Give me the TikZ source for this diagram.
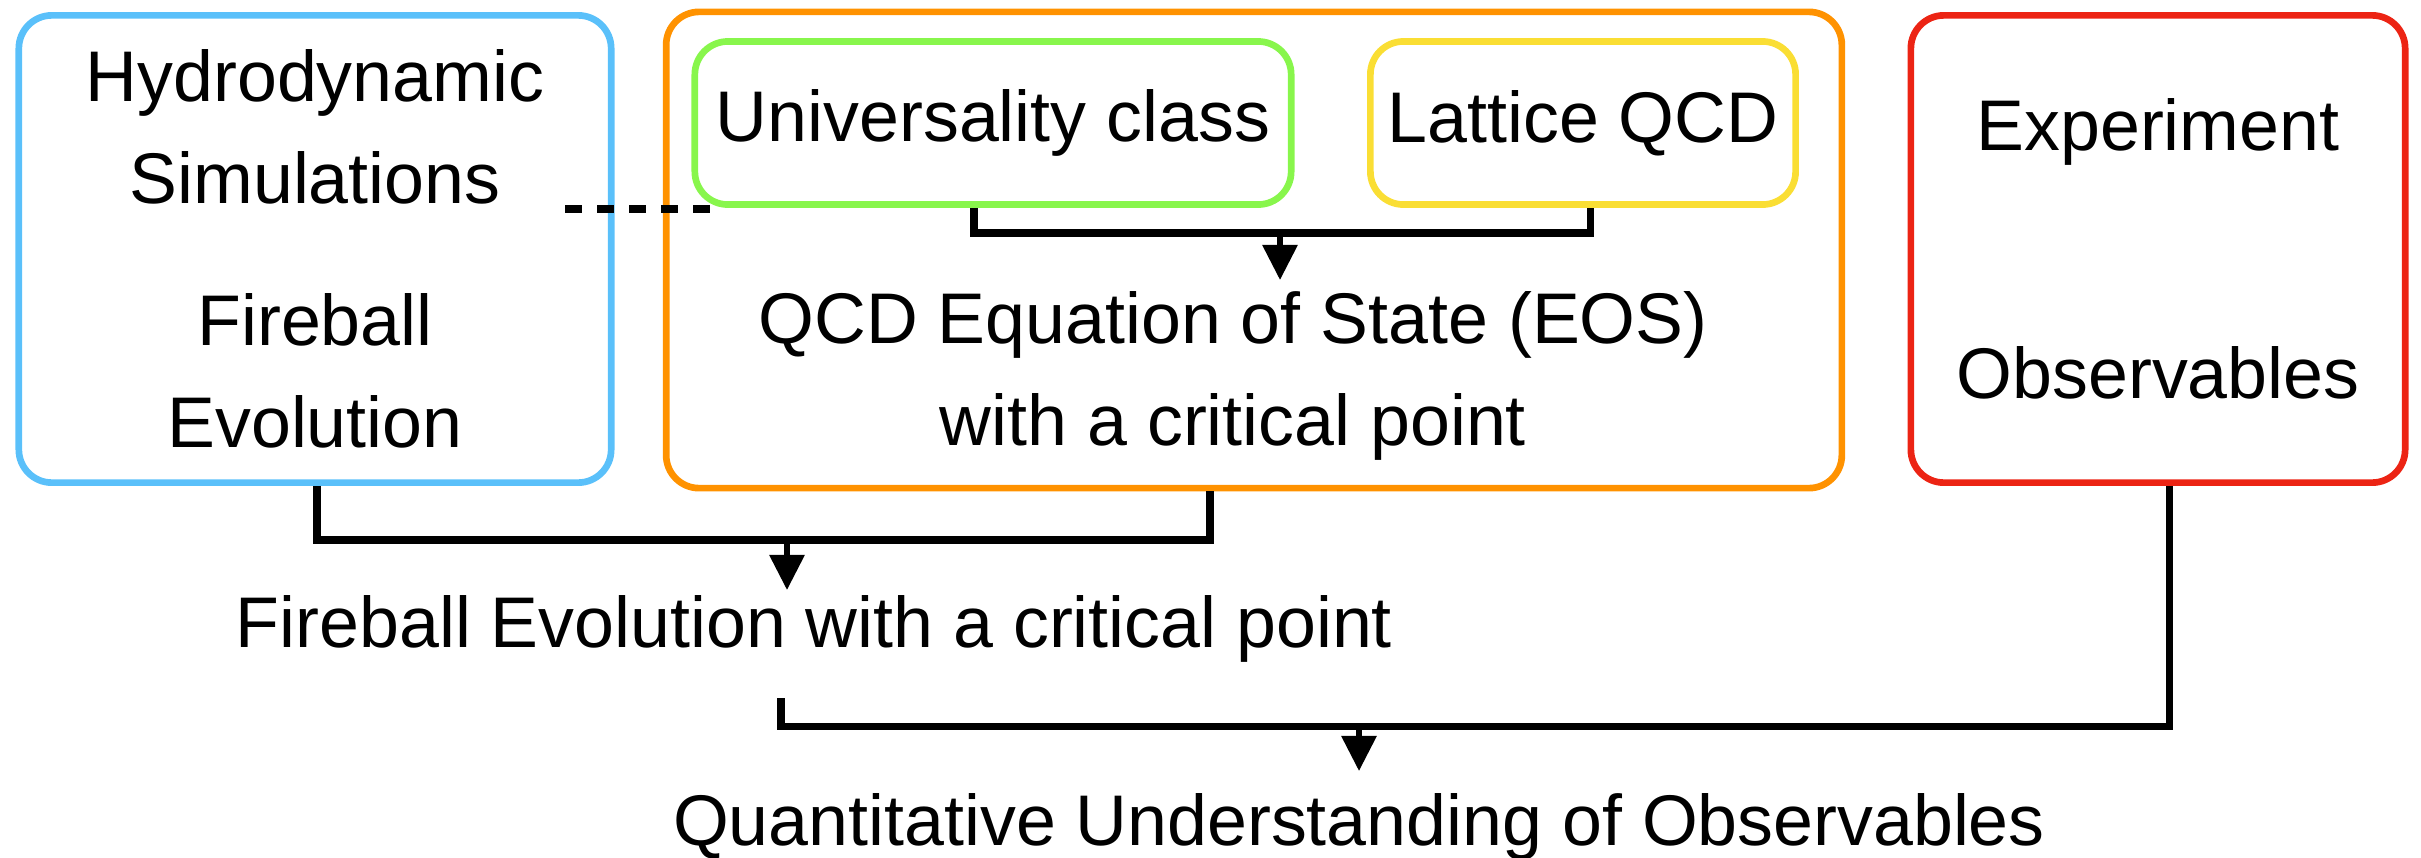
\documentclass[tikz,border=0pt]{standalone}
\usepackage{fontspec}
\setmainfont{Liberation Sans}
\usetikzlibrary{arrows.meta,positioning}

\definecolor{hydroblue}{RGB}{90,192,250}
\definecolor{eosorange}{RGB}{255,146,0}
\definecolor{unigreen}{RGB}{136,246,76}
\definecolor{latyellow}{RGB}{250,222,52}
\definecolor{exptred}{RGB}{236,36,20}

\begin{document}
\begin{tikzpicture}[
  x=0.01cm, y=-0.01cm,
  font=\fontsize{20.4}{29}\selectfont,
  box/.style={draw, line width=1.9pt, rounded corners=0.33cm, align=center, inner sep=0pt},
  label/.style={align=center, inner sep=0pt},
  link/.style={line width=2pt},
  arr/.style={-{Triangle[length=3.5mm, width=3.4mm]}, line width=1.7pt},
  dashline/.style={line width=2pt, dash pattern=on 4.8pt off 4.3pt}
]
  \useasboundingbox (0,0) rectangle (2421,857);

  % boxes
  \node[box, draw=hydroblue, minimum width=5.92cm, minimum height=4.67cm] (hydro) at (315,249)
    {Hydrodynamic\\Simulations\\[0.4cm]Fireball\\Evolution};
  \node[box, draw=eosorange, minimum width=11.75cm, minimum height=4.76cm] (eos) at (1254,250) {};
  \node[box, draw=unigreen, minimum width=5.96cm, minimum height=1.63cm] (uni) at (993,123) {Universality class};
  \node[box, draw=latyellow, minimum width=4.25cm, minimum height=1.63cm] (lat) at (1583,123) {Lattice QCD};
  \node[box, draw=exptred, minimum width=4.94cm, minimum height=4.67cm] (expt) at (2158,249)
    {Experiment\\[1.46cm]Observables};

  % texts
  \node[label] (eostext) at (1233,376) {QCD Equation of State (EOS)\\with a critical point};
  \node[label] (fire) at (814,629) {Fireball Evolution with a critical point};
  \node[label] (quant) at (1359,827) {Quantitative Understanding of Observables};

  % junctions
  \coordinate (j1) at (1280,233);
  \coordinate (j2) at (787,540);
  \coordinate (j3) at (1359,726);
  \coordinate (fstart) at (781,698);
  \coordinate (dl) at (565,209);
  \coordinate (dr) at (710,209);

  \draw[dashline] (dl) -- (dr);

  \draw[link] ([xshift=-0.19cm]uni.south) |- (j1) -| ([xshift=0.07cm]lat.south);
  \draw[arr] (j1) -- (1280,280);

  \draw[link] ([xshift=0.02cm]hydro.south) |- (j2) -| ([xshift=-0.44cm]eos.south);
  \draw[arr] (j2) -- (787,590);

  \draw[link] (fstart) |- (j3) -| ([xshift=0.11cm]expt.south);
  \draw[arr] (j3) -- (1359,771);
\end{tikzpicture}
\end{document}
